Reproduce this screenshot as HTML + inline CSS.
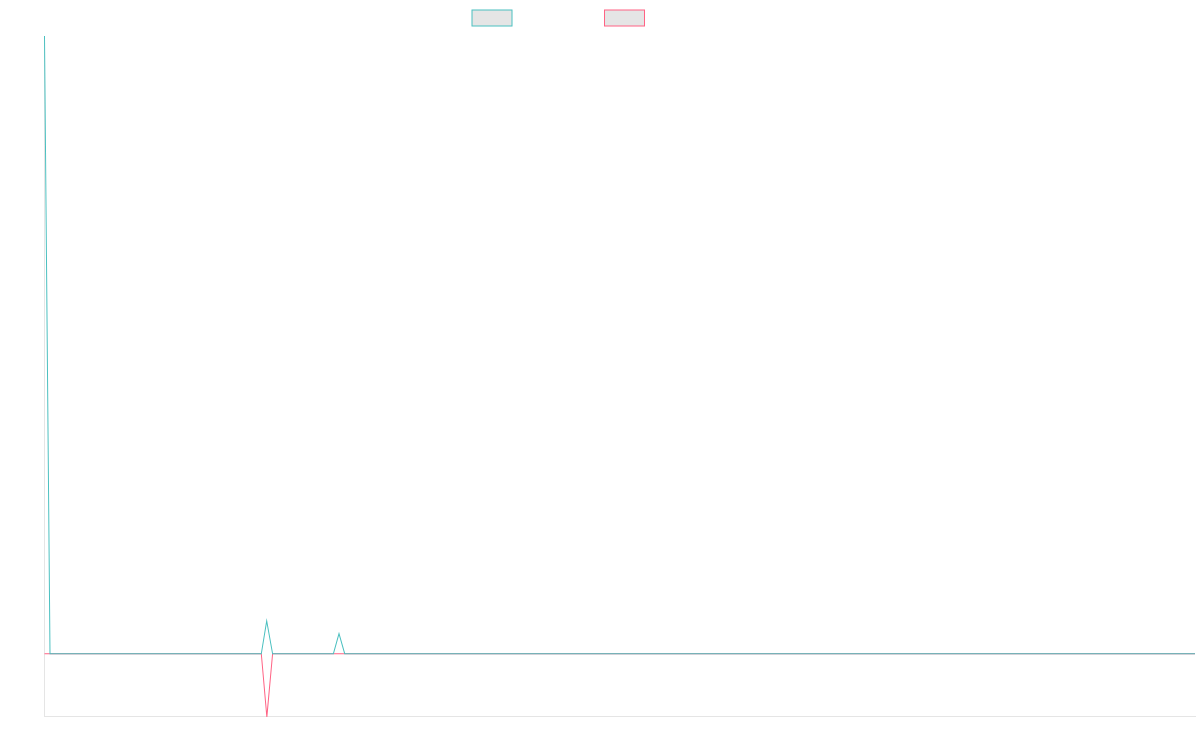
<!DOCTYPE html>
<html lang="en">
<head>
<meta charset="utf-8">
<title>Chart</title>
<style>
  html, body { margin: 0; padding: 0; background: #ffffff; }
  body { width: 1200px; height: 750px; overflow: hidden; font-family: "Liberation Sans", sans-serif; }
  svg { display: block; }
</style>
</head>
<body>
<svg xmlns="http://www.w3.org/2000/svg" width="1200" height="750" viewBox="0 0 1200 750">
  <rect x="0" y="0" width="1200" height="750" fill="#ffffff"/>

  <!-- legend -->
  <rect x="472" y="10" width="40" height="16" fill="rgba(0,0,0,0.1)"/>
  <rect x="472" y="10" width="40" height="16" fill="none" stroke="rgb(75,192,192)" stroke-width="1"/>
  <rect x="604.5" y="10" width="40" height="16" fill="rgba(0,0,0,0.1)"/>
  <rect x="604.5" y="10" width="40" height="16" fill="none" stroke="rgb(255,99,132)" stroke-width="1"/>

  <!-- axis borders -->
  <line x1="44.5" y1="36" x2="44.5" y2="716" stroke="rgba(0,0,0,0.1)" stroke-width="1"/>
  <line x1="44" y1="716.5" x2="1196" y2="716.5" stroke="rgba(0,0,0,0.1)" stroke-width="1"/>

  <clipPath id="area"><rect x="44" y="35.5" width="1151.5" height="681.5"/></clipPath>
  <g clip-path="url(#area)" fill="none" stroke-width="1.001" stroke-linejoin="miter" stroke-miterlimit="10" stroke-linecap="butt">
    <!-- series 2 (pink) drawn first so teal sits on top -->
    <polyline stroke="rgb(255,99,132)" points="44.5,653.75 261.3,653.75 266.85,716.9 272.6,653.75 1195,653.75"/>
    <!-- series 1 (teal) -->
    <polyline stroke="rgb(75,192,192)" points="44.5,36 50.0,653.75 261.3,653.75 266.7,621 272.6,653.75 333.4,653.75 339.0,633.6 344.7,653.75 1195,653.75"/>
  </g>
</svg>
</body>
</html>
